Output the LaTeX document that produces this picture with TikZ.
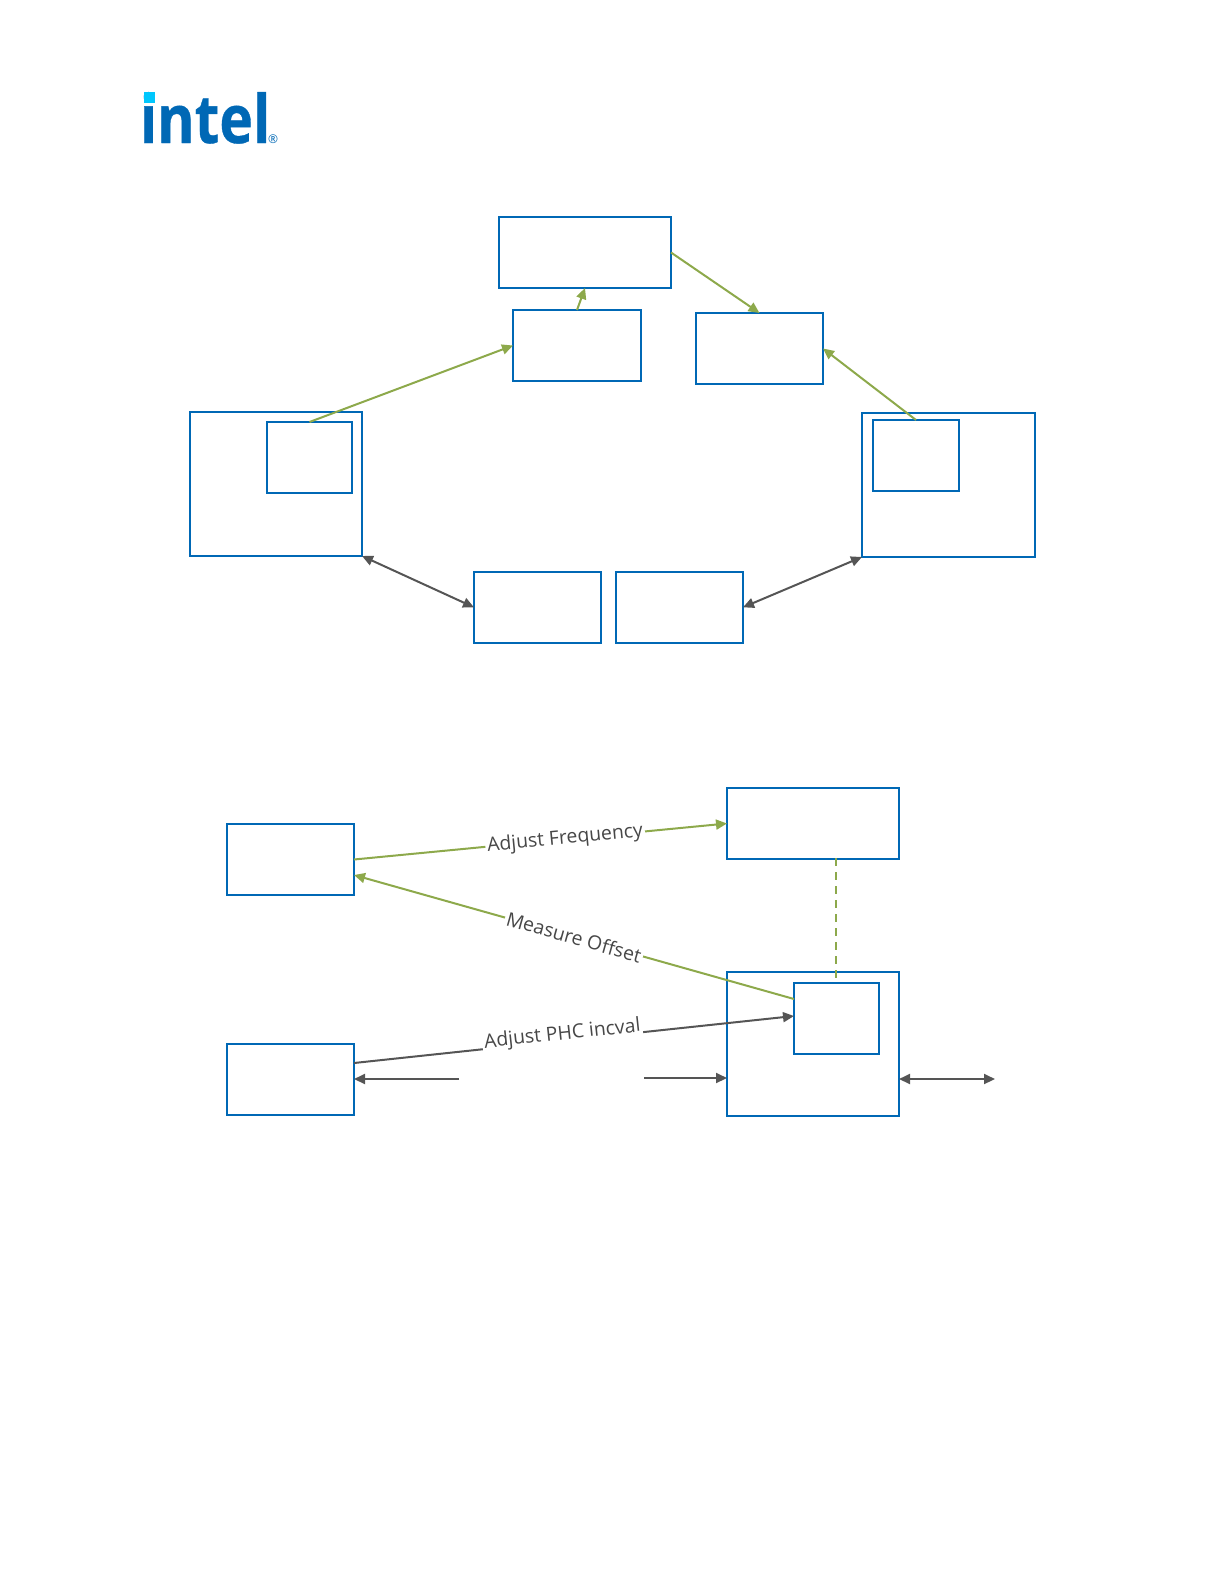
\documentclass[tikz,border=0pt]{standalone}
\usepackage{fontspec}
\setmainfont{Open Sans}
\usetikzlibrary{arrows.meta}
\definecolor{boxblue}{HTML}{0068B5}
\definecolor{dotcyan}{HTML}{00C7FD}
\definecolor{syncgreen}{HTML}{8DA94B}
\definecolor{wiregrey}{HTML}{555555}
\tikzset{
	box/.style 2 args={draw=boxblue, line width=0.9pt, fill=none, inner sep=0pt, outer sep=0pt, minimum width=#1, minimum height=#2},
	sync/.style={draw=syncgreen, line width=1pt, -{Triangle[length=5.5pt,width=5pt]}},
	wire/.style={draw=wiregrey, line width=1pt, -{Triangle[length=5.5pt,width=5pt]}},
	wirebi/.style={draw=wiregrey, line width=1pt, {Triangle[length=5.5pt,width=5pt]}-{Triangle[length=5.5pt,width=5pt]}},
	linelabel/.style={fill=white, sloped, text=black!72, font=\fontsize{9.7}{11}\selectfont, inner xsep=1pt, inner ysep=1pt},
}
\begin{document}
\begin{tikzpicture}[x=0.5pt, y=-0.5pt]
	\useasboundingbox (0,0) rectangle (1224,1584);
	% Logo
	\node[anchor=base west, inner sep=0pt, xscale=0.85, transform shape, text=boxblue, font=\fontsize{33.5}{34}\selectfont\bfseries\addfontfeature{FakeBold=0.6}] (logo) at (139.5,143) {intel};
	\fill[dotcyan] (144,92) rectangle (155,103);
	\node[anchor=center, inner sep=0pt, text=boxblue, font=\fontsize{6}{6}\selectfont] (logoreg) at (273,139) {®};

	% Oberes Bild
	\node[box={86pt}{35.5pt}] (top) at (585,252.5) {};
	\node[box={64pt}{35.5pt}] (midleft) at (577,345.5) {};
	\node[box={63.5pt}{35.5pt}] (midright) at (759.5,348.5) {};
	\node[box={86pt}{72pt}] (nicleft) at (276,484) {};
	\node[box={42.5pt}{35.5pt}] (phcleft) at (309.5,457.5) {};
	\node[box={86.5pt}{72pt}] (nicright) at (948.5,485) {};
	\node[box={43pt}{35.5pt}] (phcright) at (916,455.5) {};
	\node[box={63.5pt}{35.5pt}] (linkleft) at (537.5,607.3) {};
	\node[box={63.5pt}{35.5pt}] (linkright) at (679.5,607.3) {};

	\draw[sync] (phcleft.north) -- (midleft.west);
	\draw[sync] (midleft.north) -- (top.south);
	\draw[sync] (top.east) -- (midright.north);
	\draw[sync] (phcright.north) -- (midright.east);
	\draw[wirebi] (nicleft.south east) -- (linkleft.west);
	\draw[wirebi] (linkright.east) -- (nicright.south west);

	% Unteres Bild
	\node[box={63.5pt}{35.5pt}] (servo) at (290.5,859.5) {};
	\node[box={86pt}{35.5pt}] (clock) at (813,823.5) {};
	\node[box={86pt}{72pt}] (nic) at (813,1044) {};
	\node[box={42.5pt}{35.5pt}] (phc) at (836.5,1018.5) {};
	\node[box={63.5pt}{35.5pt}] (driver) at (290.5,1079.5) {};

	\coordinate (offsetend) at (354,875);
	\coordinate (offsetstart) at (794,999);
	\coordinate (incvalstart) at (354,1063);
	\coordinate (incvalend) at (794,1016);
	\coordinate (dashtop) at (836,858);
	\coordinate (dashend) at (836,978);
	\coordinate (driverin) at (354,1079);
	\coordinate (driverfree) at (459,1079);
	\coordinate (nicfree) at (644,1078);
	\coordinate (nicin) at (727,1078);
	\coordinate (netin) at (899,1079);
	\coordinate (netfree) at (995,1079);

	\draw[sync] (servo.east) -- node[linelabel, pos=0.566] (freqlabel) {Adjust Frequency} (clock.west);
	\draw[sync] (offsetstart) -- node[linelabel, pos=0.5] (offsetlabel) {Measure Offset} (offsetend);
	\draw[wire] (incvalstart) -- node[linelabel, pos=0.475, yshift=3pt, inner ysep=4pt] (incvallabel) {Adjust PHC incval} (incvalend);
	\draw[wire] (driverfree) -- (driverin);
	\draw[wire] (nicfree) -- (nicin);
	\draw[wirebi] (netin) -- (netfree);
	\draw[draw=syncgreen, line width=1pt, dash pattern=on 4pt off 3pt] (dashtop) -- (dashend);
\end{tikzpicture}
\end{document}
